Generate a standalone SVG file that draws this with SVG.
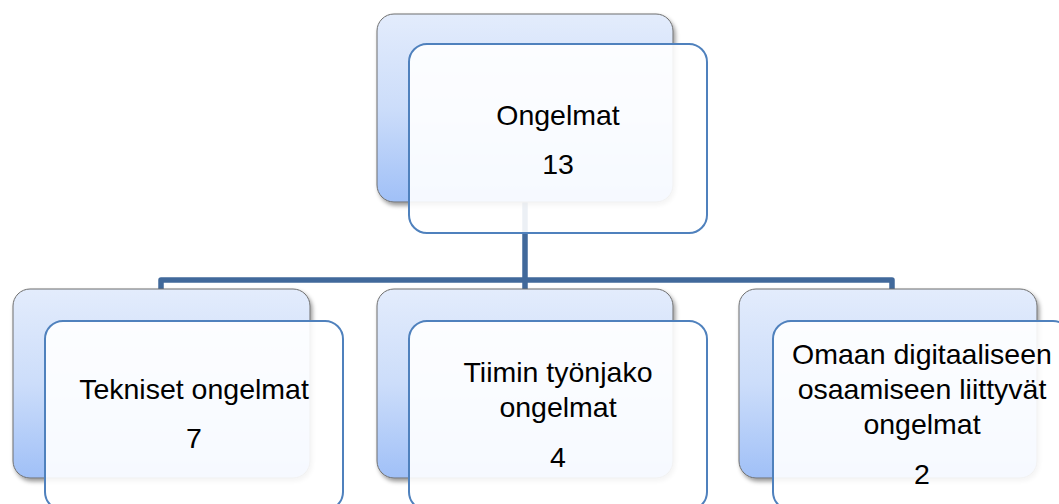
<svg xmlns="http://www.w3.org/2000/svg" width="1059" height="504" viewBox="0 0 1059 504">
<defs>
<linearGradient id="backGrad" x1="0" y1="0" x2="0" y2="1">
<stop offset="0" stop-color="#E3ECFC"/>
<stop offset="0.5" stop-color="#CCDDFA"/>
<stop offset="1" stop-color="#A0C0F7"/>
</linearGradient>
<filter id="shadow" x="-10%" y="-10%" width="125%" height="130%">
<feDropShadow dx="2" dy="3" stdDeviation="2.2" flood-color="#000" flood-opacity="0.4"/>
</filter>
</defs>
<style>
.back{fill:url(#backGrad);stroke:#6F6F6F;stroke-width:1;filter:url(#shadow)}
.front{fill:#FFFFFF;fill-opacity:0.9;stroke:#4F81BD;stroke-width:2}
.conn{fill:none;stroke:#41699B;stroke-width:5.5;stroke-linejoin:round}
.lbl{font-family:"Liberation Sans",Arial,sans-serif;font-size:28.5px;fill:#000;text-anchor:middle}
</style>
<rect width="1059" height="504" fill="#FFFFFF"/>
<g id="connectors">
<path class="conn" d="M525,200 V289"/>
<path class="conn" d="M161,289 V280 H892 V289"/>
</g>
<g id="node-ongelmat">
<rect class="back" x="377" y="14" width="296" height="188" rx="17"/>
<rect class="front" x="409" y="44" width="298" height="189" rx="18"/>
<text class="lbl" x="558" y="125">Ongelmat</text>
<text class="lbl" x="558" y="174">13</text>
</g>
<g id="node-tekniset">
<rect class="back" x="13" y="289" width="297" height="189" rx="17"/>
<rect class="front" x="45" y="321" width="298" height="189" rx="18"/>
<text class="lbl" x="194" y="399">Tekniset ongelmat</text>
<text class="lbl" x="194" y="448">7</text>
</g>
<g id="node-tiimin">
<rect class="back" x="377" y="289" width="296" height="189" rx="17"/>
<rect class="front" x="409" y="321" width="298" height="189" rx="18"/>
<text class="lbl" x="558" y="382">Tiimin työnjako</text>
<text class="lbl" x="558" y="417">ongelmat</text>
<text class="lbl" x="558" y="467">4</text>
</g>
<g id="node-omaan">
<rect class="back" x="739" y="289" width="298" height="189" rx="17"/>
<rect class="front" x="773" y="321" width="298" height="189" rx="18"/>
<text class="lbl" x="922" y="364">Omaan digitaaliseen</text>
<text class="lbl" x="922" y="399">osaamiseen liittyvät</text>
<text class="lbl" x="922" y="434">ongelmat</text>
<text class="lbl" x="922" y="484">2</text>
</g>
</svg>
